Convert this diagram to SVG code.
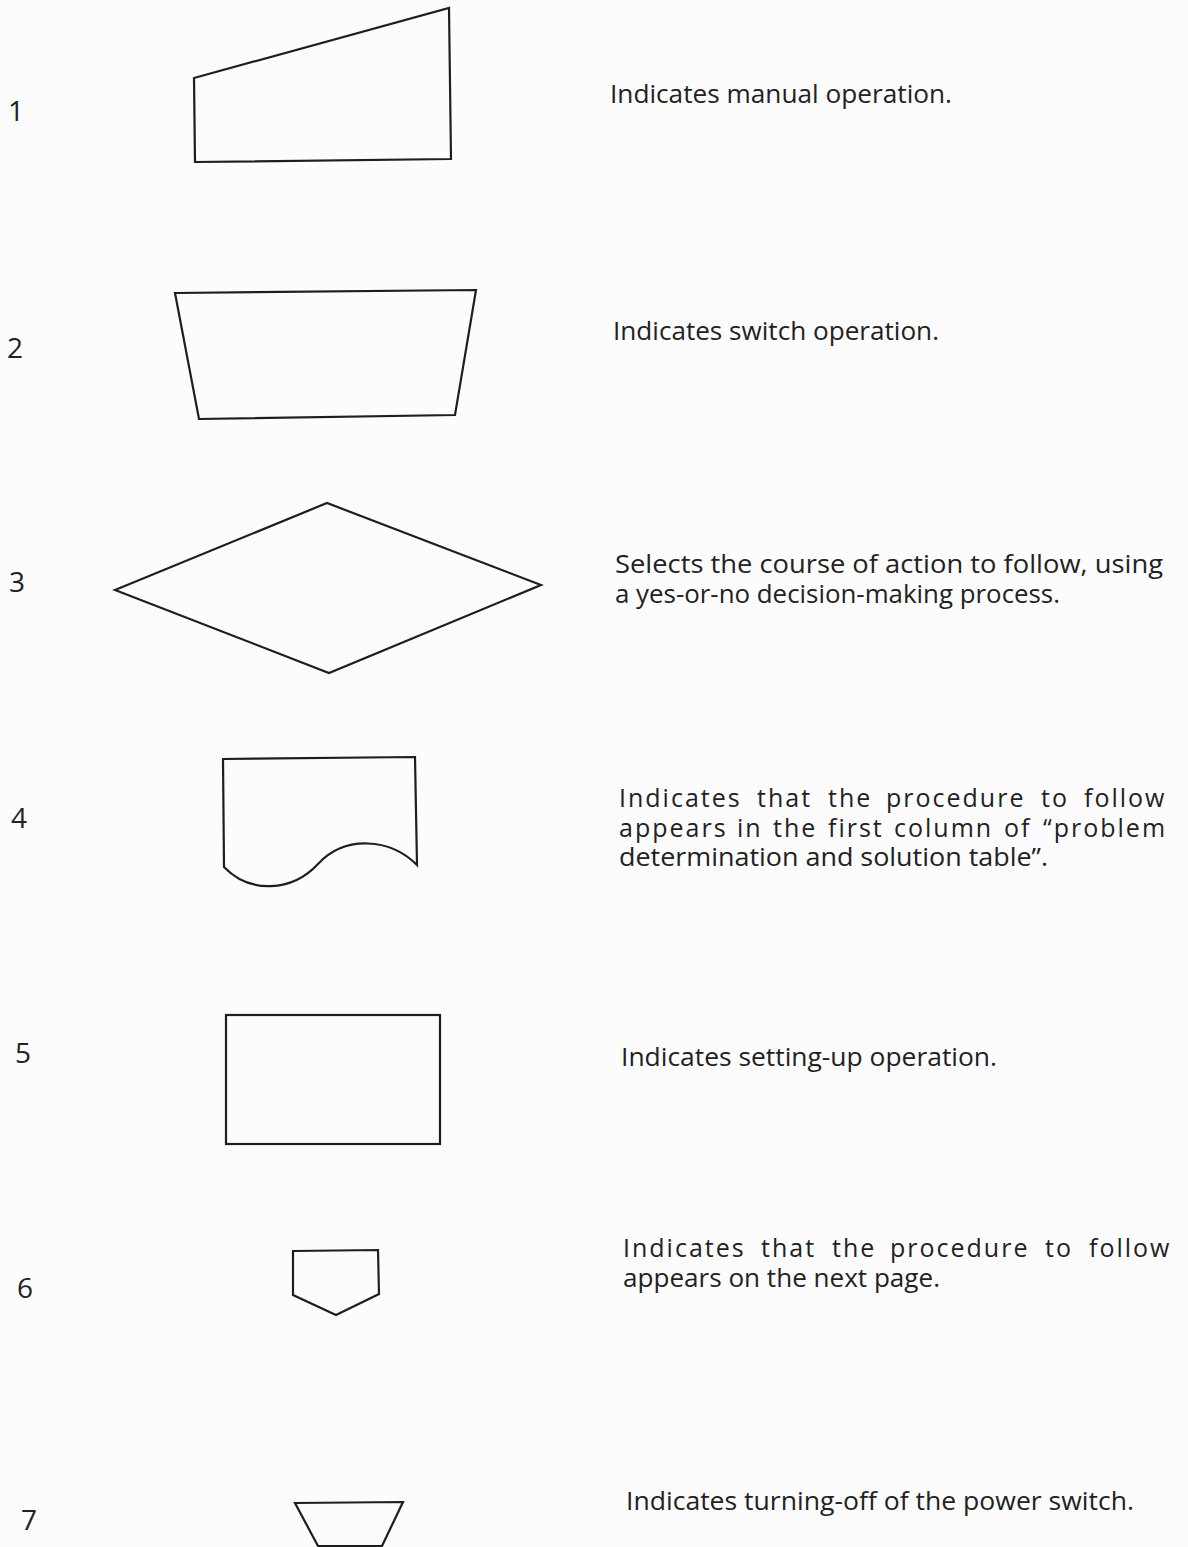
<svg xmlns="http://www.w3.org/2000/svg" width="1188" height="1547" viewBox="0 0 1188 1547">
<style>
.s{fill:none;stroke:#1e1e1e;stroke-width:2.2;stroke-linejoin:miter}
.n{font-family:"Open Sans","Liberation Sans",sans-serif;font-size:28px;fill:#222}
.t{font-family:"Open Sans","Liberation Sans",sans-serif;font-size:25px;fill:#222}
.j{letter-spacing:2px}
</style>
<rect width="1188" height="1547" fill="#fcfcfc"/>
<g id="node1">
<polygon class="s" points="194,78 449,8 451,159 195,162"/>
<text class="n" x="8" y="121">1</text>
<text class="t" x="610" y="103" textLength="342" lengthAdjust="spacingAndGlyphs">Indicates manual operation.</text>
</g>
<g id="node2">
<polygon class="s" points="175,293 476,290 455,415 199,419"/>
<text class="n" x="7" y="358">2</text>
<text class="t" x="613" y="340" textLength="326" lengthAdjust="spacingAndGlyphs">Indicates switch operation.</text>
</g>
<g id="node3">
<polygon class="s" points="115,590 327,503 541,585 329,673"/>
<text class="n" x="9" y="592">3</text>
<text class="t" x="615" y="573" textLength="548" lengthAdjust="spacingAndGlyphs">Selects the course of action to follow, using</text>
<text class="t" x="615" y="603" textLength="445" lengthAdjust="spacingAndGlyphs">a yes-or-no decision-making process.</text>
</g>
<g id="node4">
<path class="s" d="M224,867 L223,759 L415,757 L417,865 C390,838 345,835 318,864 C292,892 250,894 224,867 Z"/>
<text class="n" x="11" y="828">4</text>
<text class="t j" y="807"><tspan x="619">Indicates</tspan> <tspan x="757">that</tspan> <tspan x="828">the</tspan> <tspan x="886">procedure</tspan> <tspan x="1041">to</tspan> <tspan x="1084">follow</tspan></text>
<text class="t j" y="837"><tspan x="619">appears</tspan> <tspan x="737">in</tspan> <tspan x="773">the</tspan> <tspan x="828">first</tspan> <tspan x="894">column</tspan> <tspan x="1004">of</tspan> <tspan x="1043">“problem</tspan></text>
<text class="t" x="619" y="866" textLength="429" lengthAdjust="spacingAndGlyphs">determination and solution table”.</text>
</g>
<g id="node5">
<rect class="s" x="226" y="1015" width="214" height="129"/>
<text class="n" x="15" y="1063">5</text>
<text class="t" x="621" y="1066" textLength="376" lengthAdjust="spacingAndGlyphs">Indicates setting-up operation.</text>
</g>
<g id="node6">
<polygon class="s" points="293,1251 378,1250 379,1294 336,1315 293,1295"/>
<text class="n" x="17" y="1298">6</text>
<text class="t j" y="1257"><tspan x="623">Indicates</tspan> <tspan x="761">that</tspan> <tspan x="832">the</tspan> <tspan x="890">procedure</tspan> <tspan x="1045">to</tspan> <tspan x="1089">follow</tspan></text>
<text class="t" x="623" y="1287" textLength="317" lengthAdjust="spacingAndGlyphs">appears on the next page.</text>
</g>
<g id="node7">
<polygon class="s" points="295,1503 403,1502 382,1546 318,1546"/>
<text class="n" x="21" y="1530">7</text>
<text class="t" x="626" y="1510" textLength="508" lengthAdjust="spacingAndGlyphs">Indicates turning-off of the power switch.</text>
</g>
<g id="connectors"></g>
</svg>
